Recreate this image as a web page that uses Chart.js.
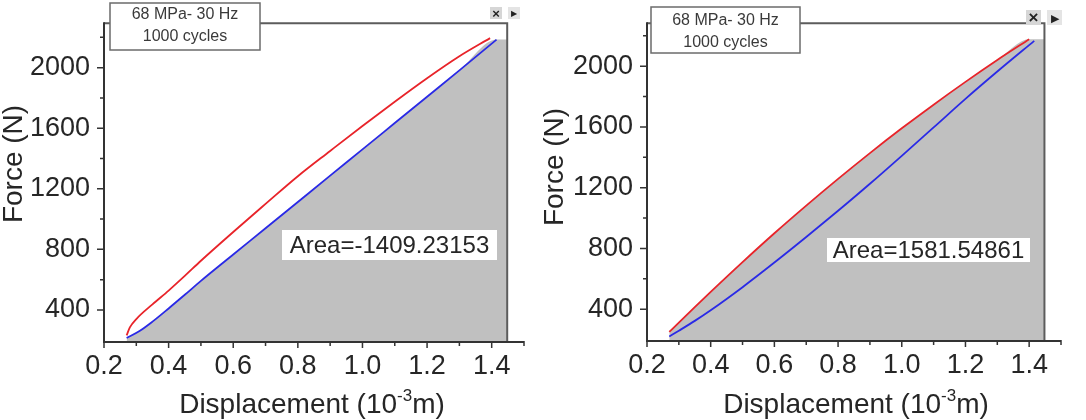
<!DOCTYPE html>
<html>
<head>
<meta charset="utf-8">
<script src="https://cdn.jsdelivr.net/npm/chart.js@4.4.0/dist/chart.umd.min.js"></script>
<style>
  body { margin: 0; background: #fff; }
  #wrap { position: relative; width: 1086px; height: 420px; }
  canvas { position: absolute; top: 0; }
  #hystLeft { left: 0; }
  #hystRight { left: 543px; }
</style>
</head>
<body>
<div id="wrap">
  <canvas id="hystLeft" width="543" height="420"></canvas>
  <canvas id="hystRight" width="543" height="420"></canvas>
</div>
<script>
// left loop (red = loading, blue = unloading), displacement in 10^-3 m, force in N
const leftRedX = [0.27, 0.28, 0.30, 0.35, 0.40, 0.45, 0.50, 0.60, 0.70, 0.80, 0.90, 1.00, 1.10, 1.20, 1.30, 1.395];
const leftRedY = [232, 285, 340, 437, 528, 625, 725, 915, 1100, 1283, 1450, 1615, 1775, 1930, 2075, 2195];
const leftBlueX = [0.27, 0.31, 0.35, 0.40, 0.45, 0.50, 0.60, 0.70, 0.80, 0.90, 1.00, 1.10, 1.20, 1.30, 1.415];
const leftBlueY = [215, 261, 323, 410, 500, 592, 766, 939, 1113, 1287, 1460, 1634, 1808, 1982, 2185];

// right loop
const rightRedX = [0.27, 0.30, 0.35, 0.40, 0.50, 0.60, 0.70, 0.80, 0.90, 1.00, 1.10, 1.20, 1.30, 1.40];
const rightRedY = [250, 312, 414, 514, 710, 900, 1082, 1258, 1428, 1591, 1747, 1897, 2041, 2178];
const rightBlueX = [0.27, 0.30, 0.35, 0.40, 0.50, 0.60, 0.70, 0.80, 0.90, 1.00, 1.10, 1.20, 1.30, 1.416];
const rightBlueY = [220, 258, 323, 393, 545, 707, 875, 1048, 1226, 1410, 1597, 1785, 1965, 2167];

const xTicks = [0.2, 0.4, 0.6, 0.8, 1.0, 1.2, 1.4];
const xMinor = [0.3, 0.5, 0.7, 0.9, 1.1, 1.3, 1.5];
const yTicks = [400, 800, 1200, 1600, 2000];
const yMinor = [600, 1000, 1400, 1800, 2200];
const frameEnd = 1.448;

const infoLines = ["68 MPa- 30 Hz", "1000 cycles"];
const leftAreaText = "Area=-1409.23153";
const rightAreaText = "Area=1581.54861";

const FONT = '"Liberation Sans", Arial, sans-serif';
const INK = '#262626';

function pts(xs, ys) {
  return xs.map((v, i) => ({ x: v, y: ys[i] }));
}
function fillPts(xs, ys) {
  // region under the curve, closed on the right at the frame
  return pts(xs, ys).concat([{ x: frameEnd, y: ys[ys.length - 1] }]);
}

const decor = {
  id: 'decor',
  afterDatasetsDraw(chart, args, o) {
    const ctx = chart.ctx;
    const a = chart.chartArea;
    const xs = chart.scales.x, ys = chart.scales.y;
    ctx.save();

    // frame top and right
    const xr = xs.getPixelForValue(frameEnd);
    ctx.strokeStyle = '#5c5c5c';
    ctx.lineWidth = 2;
    ctx.beginPath();
    ctx.moveTo(a.left, a.top + 1);
    ctx.lineTo(xr, a.top + 1);
    ctx.lineTo(xr, a.bottom);
    ctx.stroke();

    // axes
    ctx.strokeStyle = '#333';
    ctx.lineWidth = 2;
    ctx.beginPath();
    ctx.moveTo(a.left, a.top);
    ctx.lineTo(a.left, a.bottom + 1);
    ctx.lineTo(a.right, a.bottom + 1);
    ctx.stroke();

    // tick marks
    ctx.lineWidth = 1.5;
    ctx.beginPath();
    yTicks.forEach(v => { const p = ys.getPixelForValue(v); ctx.moveTo(a.left - 7, p); ctx.lineTo(a.left, p); });
    yMinor.forEach(v => { const p = ys.getPixelForValue(v); ctx.moveTo(a.left - 4, p); ctx.lineTo(a.left, p); });
    xTicks.forEach(v => { const p = xs.getPixelForValue(v); ctx.moveTo(p, a.bottom); ctx.lineTo(p, a.bottom + 7); });
    xMinor.forEach(v => { const p = xs.getPixelForValue(v); ctx.moveTo(p, a.bottom); ctx.lineTo(p, a.bottom + 5); });
    ctx.stroke();

    // info box
    const b = o.info;
    ctx.fillStyle = '#fff';
    ctx.fillRect(b.x, b.y, b.w, b.h);
    ctx.strokeStyle = '#6b6b6b';
    ctx.lineWidth = 1.5;
    ctx.strokeRect(b.x, b.y, b.w, b.h);
    ctx.fillStyle = '#3a3a3a';
    ctx.font = '16px ' + FONT;
    ctx.textAlign = 'center';
    ctx.textBaseline = 'middle';
    infoLines.forEach((t, i) => ctx.fillText(t, b.x + b.w / 2, b.y + b.line0 + i * b.gap));

    // area label
    const r = o.area;
    ctx.fillStyle = '#fff';
    ctx.fillRect(r.x, r.y, r.w, r.h);
    ctx.fillStyle = INK;
    ctx.font = '24px ' + FONT;
    ctx.fillText(r.text, r.x + r.w / 2, r.y + r.h / 2 + 1);

    // little window buttons in the corner
    const k = o.btn;
    ctx.fillStyle = '#d6d6d6';
    ctx.fillRect(k.x, k.y, k.s, k.s);
    ctx.fillStyle = '#e4e4e4';
    ctx.fillRect(k.x + k.s + 6, k.y, k.s, k.s);
    ctx.fillStyle = '#222';
    ctx.font = 'bold ' + Math.round(k.s * 1.1) + 'px ' + FONT;
    ctx.fillText('×', k.x + k.s / 2, k.y + k.s / 2 + 1);
    ctx.font = Math.round(k.s * 0.7) + 'px ' + FONT;
    ctx.fillText('▶', k.x + k.s * 1.5 + 6, k.y + k.s / 2 + 1);

    // axis titles
    ctx.fillStyle = INK;
    ctx.font = '28px ' + FONT;
    ctx.save();
    ctx.translate(o.yTitle.x, o.yTitle.y);
    ctx.rotate(-Math.PI / 2);
    ctx.fillText('Force (N)', 0, 0);
    ctx.restore();

    const p1 = 'Displacement (10', sup = '-3', p2 = 'm)';
    ctx.font = '28px ' + FONT;
    const w1 = ctx.measureText(p1).width, w2 = ctx.measureText(p2).width;
    ctx.font = '17px ' + FONT;
    const ws = ctx.measureText(sup).width;
    let tx = o.xTitle.x - (w1 + ws + w2) / 2;
    ctx.textAlign = 'left';
    ctx.textBaseline = 'alphabetic';
    ctx.font = '28px ' + FONT;
    ctx.fillText(p1, tx, o.xTitle.y);
    tx += w1;
    ctx.font = '17px ' + FONT;
    ctx.fillText(sup, tx, o.xTitle.y - 12);
    tx += ws;
    ctx.font = '28px ' + FONT;
    ctx.fillText(p2, tx, o.xTitle.y);

    ctx.restore();
  }
};

function makeChart(id, red, blue, fillUnder, ymin, ymax, pad, decorOpts) {
  const ctx = document.getElementById(id).getContext('2d');
  return new Chart(ctx, {
    type: 'line',
    data: {
      datasets: [
        { data: red, borderColor: '#e8242a', borderWidth: 1.8, pointRadius: 0, cubicInterpolationMode: 'monotone' },
        { data: blue, borderColor: '#2a2ae6', borderWidth: 1.8, pointRadius: 0, cubicInterpolationMode: 'monotone' },
        { data: fillUnder, borderWidth: 0, borderColor: 'rgba(0,0,0,0)', backgroundColor: '#c0c0c0',
          fill: 'start', pointRadius: 0, cubicInterpolationMode: 'monotone' }
      ]
    },
    options: {
      responsive: false,
      animation: false,
      devicePixelRatio: 1,
      layout: { padding: pad },
      plugins: { legend: { display: false }, tooltip: { enabled: false }, decor: decorOpts },
      scales: {
        x: {
          type: 'linear', min: 0.2, max: 1.5,
          afterBuildTicks: s => { s.ticks = xTicks.map(v => ({ value: v })); },
          afterFit: s => { s.height = pad.xh; },
          ticks: { color: INK, font: { family: FONT, size: 27 }, padding: 2, maxRotation: 0,
                   callback: v => v.toFixed(1) },
          grid: { drawOnChartArea: false, tickLength: 7, tickColor: 'rgba(0,0,0,0)' },
          border: { display: false }
        },
        y: {
          type: 'linear', min: ymin, max: ymax,
          afterBuildTicks: s => { s.ticks = yTicks.map(v => ({ value: v })); },
          afterFit: s => { s.width = 104; },
          ticks: { color: INK, font: { family: FONT, size: 27 }, padding: 6,
                   callback: v => String(v) },
          grid: { drawOnChartArea: false, tickLength: 8, tickColor: 'rgba(0,0,0,0)' },
          border: { display: false }
        }
      }
    },
    plugins: [decor]
  });
}

makeChart('hystLeft',
  pts(leftRedX, leftRedY), pts(leftBlueX, leftBlueY), fillPts(leftBlueX, leftBlueY),
  195, 2300,
  { left: 0, right: 19, top: 3, bottom: 0, xh: 79 },
  {
    info: { x: 110, y: 3, w: 150, h: 47, line0: 12, gap: 22 },
    area: { x: 282, y: 230, w: 215, h: 30, text: leftAreaText },
    btn: { x: 490, y: 7, s: 12 },
    yTitle: { x: 14, y: 164 },
    xTitle: { x: 312, y: 413 }
  });

makeChart('hystRight',
  pts(rightRedX, rightRedY), pts(rightBlueX, rightBlueY), fillPts(rightRedX, rightRedY),
  197, 2290,
  { left: 0, right: 25, top: 7, bottom: 0, xh: 80 },
  {
    info: { x: 108, y: 7, w: 149, h: 46, line0: 14, gap: 22 },
    area: { x: 284, y: 238, w: 203, h: 24, text: rightAreaText },
    btn: { x: 483, y: 10, s: 15 },
    yTitle: { x: 12, y: 167 },
    xTitle: { x: 313, y: 413 }
  });
</script>
</body>
</html>
